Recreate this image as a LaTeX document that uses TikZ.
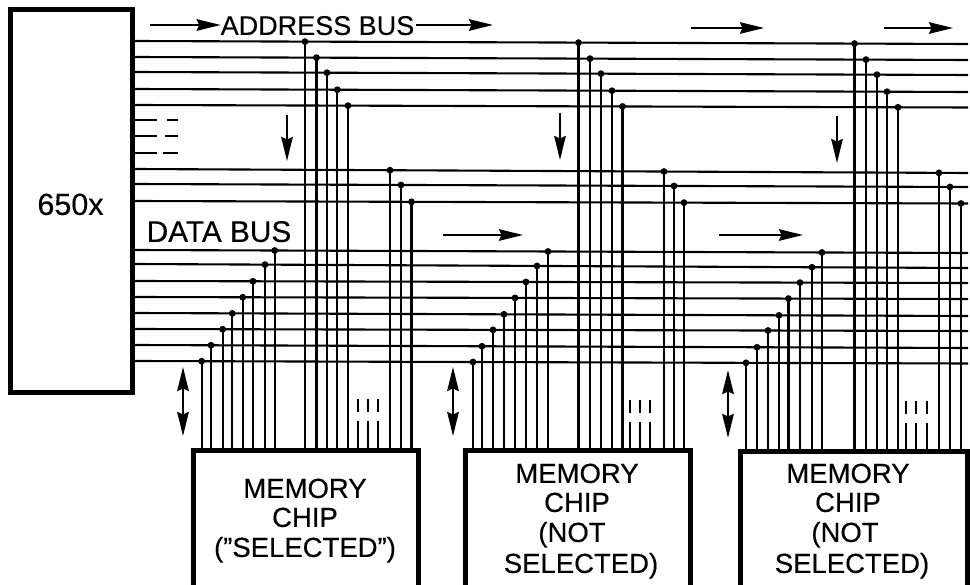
\documentclass[tikz,border=0pt]{standalone}
\usepackage{fontspec}
\setmainfont[Ligatures=TeX,FakeBold=0.35]{Liberation Sans}
\usetikzlibrary{arrows.meta,calc}
\newcommand{\mytap}[3]{% x, bus index, chip
  \pgfmathsetmacro{\tapf}{(#1-135)/833}
  \coordinate (T) at ($(L#2)!\tapf!(R#2)$);
  \fill (T) circle[radius=3.4];
  \draw[wire] (T) -- (T |- #3.north);
}
\newcommand{\myticks}[2]{% x, y of top of chip
  \coordinate (U1) at (#1,#2-49);
  \coordinate (U2) at (#1,#2-36);
  \coordinate (U3) at (#1,#2-27);
  \coordinate (U4) at (#1,#2);
  \draw[wire] (U1) -- (U2) (U3) -- (U4);
}
\begin{document}
\begin{tikzpicture}[x=1pt,y=-1pt,
  wire/.style={line width=2.1pt},
  frame/.style={line width=5pt,line cap=square},
  flow/.style={line width=2.2pt,-{Stealth[length=24pt,width=11.5pt,inset=2.5pt]}},
  both/.style={line width=2.2pt,{Stealth[length=24pt,width=11.5pt,inset=2.5pt]}-{Stealth[length=24pt,width=11.5pt,inset=2.5pt]}},
  chipbox/.style={minimum width=225pt,minimum height=135pt,inner sep=0pt,outer sep=0pt},
  lab/.style={inner sep=0pt,outer sep=0pt,text height=19.8pt,text depth=0pt,font=\fontsize{27.5}{30}\selectfont}
  ]
\useasboundingbox (0,0) rectangle (970,585);
\fill[white] (0,0) rectangle (970,585);

% CPU
\node[draw,line width=5pt,minimum width=122.5pt,minimum height=383pt,inner sep=0pt,outer sep=0pt] (cpu) at (71.7,201.5) {};
\node[lab,font=\fontsize{30.5}{30}\selectfont] (cpulab) at (70.5,205) {650x};

% chips
\node[chipbox] (c1) at (305.5,518) {};
\node[chipbox] (c2) at (577.5,518) {};
\node[chipbox,minimum width=227pt] (c3) at (853.5,519) {};
\foreach \c in {c1,c2,c3}
  \draw[frame] (\c.south west) -- (\c.north west) -- (\c.north east) -- (\c.south east);

% bus lines
\foreach \i/\yl/\yr in {1/41/44,2/57/60,3/72/75,4/89/92,5/105/107.5,
                        6/169/173,7/184/187,8/201/203.5,
                        9/250/253,10/264/268,11/281/283,12/297/299,13/313/316,14/329/331,15/345/348,16/361/363.5}{
  \coordinate (L\i) at (135,\yl);
  \coordinate (R\i) at (968,\yr);
  \draw[wire] (L\i) -- (R\i);
}

% stub lines from the processor
\foreach \n/\y/\a in {1/120/167,2/136/165,3/153/163}{
  \coordinate (S\n) at (135,\y);
  \coordinate (Sa\n) at (157,\y);
  \coordinate (Sb\n) at (\a,\y);
  \coordinate (Sc\n) at (178,\y);
  \draw[wire] (S\n) -- (Sa\n) (Sb\n) -- (Sc\n);
}

% taps chip 1
\foreach \x/\b in {201.7/16,211/15,222.7/14,232.3/13,242.7/12,253/11,265/10,274.7/9,
                   305/1,316.5/2,327/3,337.3/4,348/5,390/6,401/7,411.5/8}{\mytap{\x}{\b}{c1}}
% taps chip 2
\foreach \x/\b in {473/16,482/15,493/14,504/13,515/12,526/11,537/10,548/9,
                   578.5/1,590/2,601/3,612/4,622.5/5,664/6,674/7,684/8}{\mytap{\x}{\b}{c2}}
% taps chip 3
\foreach \x/\b in {746/16,757/15,768/14,779/13,788.5/12,800/11,812/10,822/9,
                   854.5/1,866/2,877/3,887/4,898/5,939/6,950/7,961/8}{\mytap{\x}{\b}{c3}}

% broken lines above chips
\foreach \x in {357.7,368,377.7}{\myticks{\x}{448}}
\foreach \x in {630,640,650}{\myticks{\x}{449}}
\foreach \x in {906,916,927}{\myticks{\x}{450}}

% labels
\node[lab,font=\fontsize{27}{30}\selectfont] (addr) at (317.5,25) {ADDRESS BUS};
\node[lab,font=\fontsize{29.8}{30}\selectfont] (data) at (219,232) {DATA BUS};

\node[lab] (m1a) at (305,488) {MEMORY};
\node[lab] (m1b) at (305,517) {CHIP};
\node[lab] (m1c) at (305,547) {(''SELECTED'')};
\node[lab] (m2a) at (577,473) {MEMORY};
\node[lab] (m2b) at (577,502) {CHIP};
\node[lab] (m2c) at (572,532) {(NOT};
\node[lab] (m2d) at (581,563) {SELECTED)};
\node[lab] (m3a) at (848,473) {MEMORY};
\node[lab] (m3b) at (848,502) {CHIP};
\node[lab] (m3c) at (845,532) {(NOT};
\node[lab] (m3d) at (852,563) {SELECTED)};

% arrows
\coordinate (a0) at (150,25);
\coordinate (a1) at (493,25);
\draw[flow] (a0) -- (addr.west);
\draw[flow] ([xshift=2pt]addr.east) -- (a1);
\foreach \n/\xa/\ya/\xb/\yb in {2/691/28/764/28,3/884/28/953/28,4/443/235/523/235,5/719/235/803/235,
                                6/287/115/287/161,7/560/113/560/160,8/837/116/837/163}{
  \coordinate (p\n) at (\xa,\ya);
  \coordinate (q\n) at (\xb,\yb);
  \draw[flow] (p\n) -- (q\n);
}
\foreach \n/\x/\ya/\yb in {1/183/367/436,2/453/367/436,3/728/370/438}{
  \coordinate (d\n) at (\x,\ya);
  \coordinate (e\n) at (\x,\yb);
  \draw[both] (d\n) -- (e\n);
}
\end{tikzpicture}
\end{document}
